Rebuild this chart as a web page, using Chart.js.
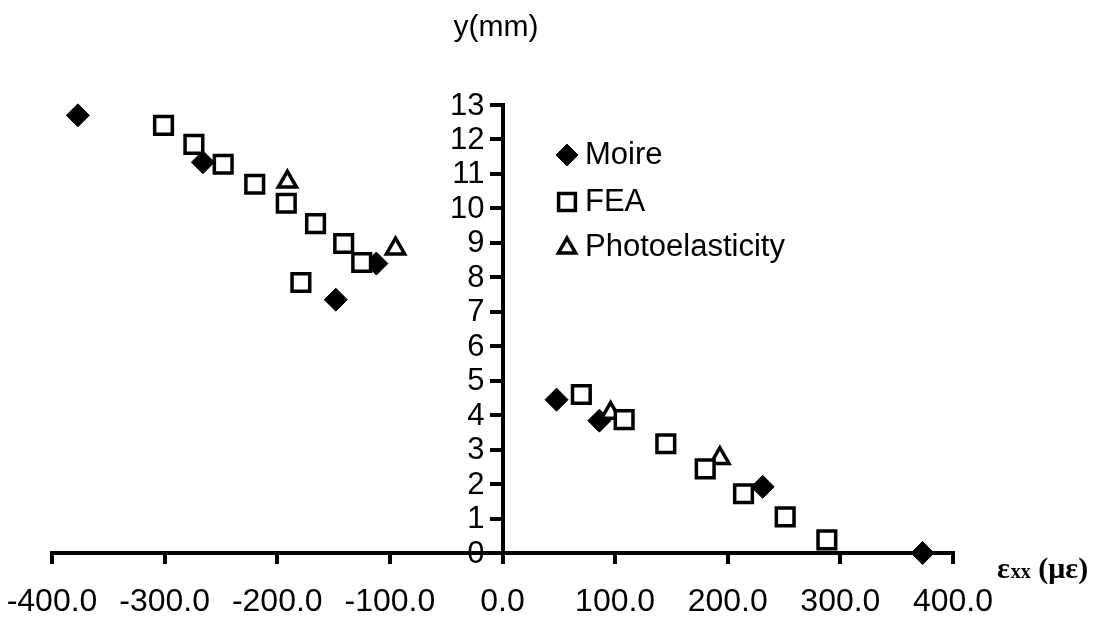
<!DOCTYPE html>
<html><head><meta charset="utf-8">
<script src="https://cdn.jsdelivr.net/npm/chart.js@4/dist/chart.umd.min.js"></script>
<style>html,body{margin:0;padding:0;background:#fff}#wrap{width:1102px;height:619px;position:relative}</style>
</head><body><div id="wrap"><canvas id="c" width="1102" height="619"></canvas></div>
<script>
const seriesNames = ['Moire', 'FEA', 'Photoelasticity'];
const moireX = [-377, -266, -112, -148, 48, 86, 231, 373];
const moireY = [12.7, 11.34, 8.4, 7.35, 4.45, 3.84, 1.92, 0];
const feaX = [-301, -274, -248, -220, -192, -166, -141, -125, -179, 70, 108, 145, 180, 214, 251, 288];
const feaY = [12.41, 11.86, 11.28, 10.70, 10.15, 9.56, 8.98, 8.43, 7.85, 4.6, 3.87, 3.17, 2.44, 1.72, 1.05, 0.38];
const photoX = [-191, -95, 96, 193];
const photoY = [10.77, 8.83, 4.06, 2.75];
const xTickValues = [-400, -300, -200, -100, 0, 100, 200, 300, 400];
const xTickLabels = ['-400.0', '-300.0', '-200.0', '-100.0', '0.0', '100.0', '200.0', '300.0', '400.0'];
const yTickValues = [0, 1, 2, 3, 4, 5, 6, 7, 8, 9, 10, 11, 12, 13];
const yTickLabels = ['0', '1', '2', '3', '4', '5', '6', '7', '8', '9', '10', '11', '12', '13'];
const yTitle = 'y(mm)';
const xTitleParts = ['\u03b5', 'xx', ' (\u03bc\u03b5)'];

const pts = (xs, ys) => xs.map((x, i) => ({x: x, y: ys[i]}));
const FONT = "'Liberation Sans', Arial, sans-serif";

const styles = [
  {pointStyle: 'rectRot', radius: 11.5, backgroundColor: '#000', borderColor: '#000', borderWidth: 1, order: 2},
  {pointStyle: 'rect', radius: 12.5, backgroundColor: '#fff', borderColor: '#000', borderWidth: 3.5, order: 0},
  {pointStyle: 'triangle', radius: 10.5, backgroundColor: '#fff', borderColor: '#000', borderWidth: 3.5, order: 1}
];

const overlay = {
  id: 'overlay',
  afterDraw(chart) {
    const ctx = chart.ctx;
    ctx.save();
    ctx.fillStyle = '#000';
    // y tick labels, placed from the y scale
    const ys = chart.scales.y;
    const axisX = chart.scales.x.getPixelForValue(0);
    ctx.font = '31px ' + FONT;
    ctx.textAlign = 'right';
    ctx.textBaseline = 'middle';
    ys.ticks.forEach(t => {
      const i = yTickValues.indexOf(t.value);
      if (i >= 0) ctx.fillText(yTickLabels[i], axisX - 18, ys.getPixelForValue(t.value) + 1);
    });
    ctx.font = '30px ' + FONT;
    ctx.textAlign = 'center';
    ctx.fillText(yTitle, 496, 28);
    // x title
    ctx.textAlign = 'left';
    let x = 997;
    ctx.font = 'bold 30px "Liberation Serif", serif';
    ctx.fillText(xTitleParts[0], x, 570);
    x += ctx.measureText(xTitleParts[0]).width + 1;
    ctx.font = 'bold 20px "Liberation Serif", serif';
    ctx.fillText(xTitleParts[1], x, 573);
    x += ctx.measureText(xTitleParts[1]).width;
    ctx.font = 'bold 30px "Liberation Serif", serif';
    ctx.fillText(xTitleParts[2], x, 570);
    // legend
    const legY = [155, 202, 247];
    const markY = [155, 202, 248];
    ctx.font = '31px ' + FONT;
    seriesNames.forEach((n, i) => {
      const st = styles[i];
      ctx.fillStyle = st.backgroundColor;
      ctx.strokeStyle = st.borderColor;
      ctx.lineWidth = st.borderWidth;
      Chart.helpers.drawPoint(ctx, {pointStyle: st.pointStyle, radius: st.radius * 0.95, borderWidth: st.borderWidth}, 567, markY[i]);
      ctx.fillStyle = '#000';
      ctx.fillText(n, 585, legY[i]);
    });
    ctx.restore();
  }
};

const datasets = [pts(moireX, moireY), pts(feaX, feaY), pts(photoX, photoY)].map((d, i) => ({
  label: seriesNames[i], data: d, clip: false, showLine: false, order: styles[i].order,
  pointStyle: styles[i].pointStyle, pointRadius: styles[i].radius, pointHoverRadius: styles[i].radius,
  pointBackgroundColor: styles[i].backgroundColor, pointBorderColor: styles[i].borderColor, pointBorderWidth: styles[i].borderWidth
}));

new Chart(document.getElementById('c'), {
  type: 'scatter',
  data: {datasets: datasets},
  options: {
    responsive: false, animation: false, devicePixelRatio: 1,
    layout: {padding: {left: 52, right: 149, top: 105, bottom: 0}},
    plugins: {legend: {display: false}, tooltip: {enabled: false}, title: {display: false}},
    scales: {
      x: {
        type: 'linear', min: -400, max: 400,
        afterBuildTicks: s => { s.ticks = xTickValues.map(v => ({value: v})); },
        afterFit: s => { s.height = 66; s.paddingLeft = 0; s.paddingRight = 0; },
        grid: {display: true, drawOnChartArea: false, drawTicks: true, tickLength: 11, lineWidth: 4, color: '#000'},
        border: {display: true, width: 4, color: '#000'},
        ticks: {padding: 19, color: '#000', font: {size: 32, family: FONT}, maxRotation: 0, autoSkip: false,
          callback: (v) => xTickLabels[xTickValues.indexOf(v)]}
      },
      y: {
        type: 'linear', min: 0, max: 13, position: {x: 0},
        afterBuildTicks: s => { s.ticks = yTickValues.map(v => ({value: v})); },
        afterFit: s => { s.width = 0; s.paddingTop = 0; s.paddingBottom = 0; },
        grid: {display: true, drawOnChartArea: false, drawTicks: true, tickLength: 11, lineWidth: 4, color: '#000'},
        border: {display: true, width: 4, color: '#000'},
        ticks: {display: false, autoSkip: false}
      }
    }
  },
  plugins: [overlay]
});
</script></body></html>
